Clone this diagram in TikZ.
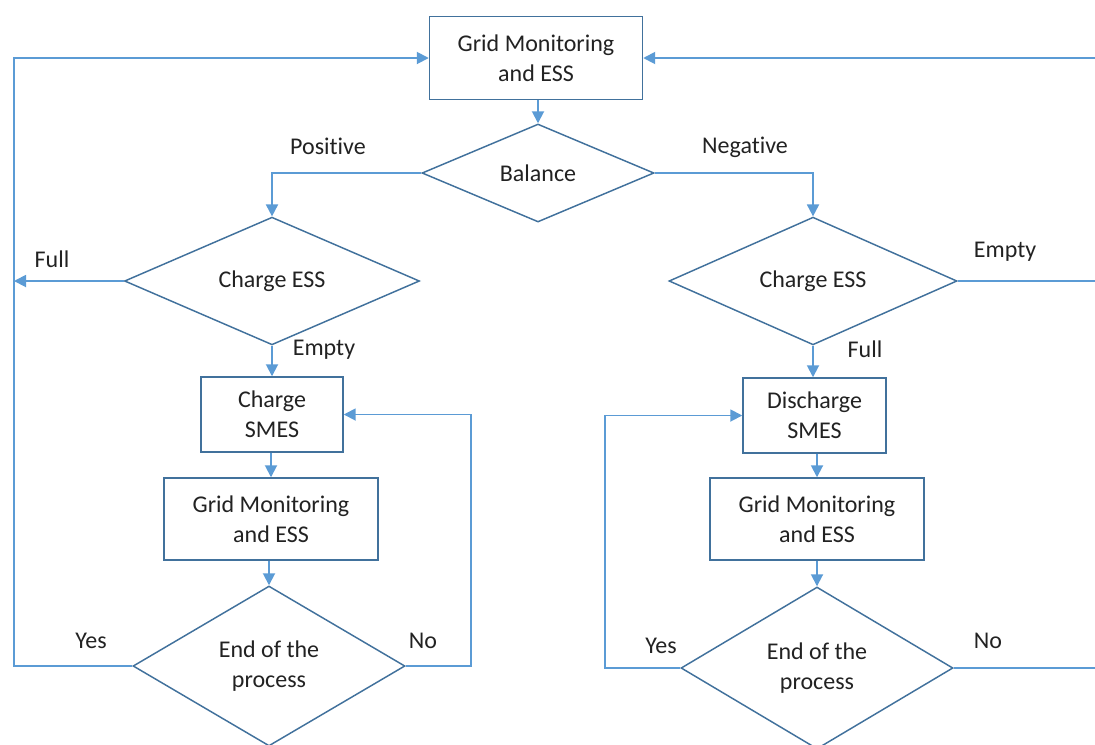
\documentclass[tikz,border=0pt]{standalone}
\usepackage{fontspec}
\setmainfont{Carlito}[RawFeature=-liga]
\usetikzlibrary{shapes.geometric,arrows.meta,calc}
\definecolor{flowline}{HTML}{5B9BD5}
\definecolor{shapeline}{HTML}{41719C}
\definecolor{txt}{HTML}{222222}
\begin{document}
\begin{tikzpicture}[x=0.75pt,y=-0.75pt,
  every node/.style={text=txt,font=\fontsize{18}{22.5}\selectfont},
  procbox/.style={draw=shapeline,line width=1.1pt,fill=white,rectangle,align=center,inner sep=0pt},
  decide/.style={draw=shapeline,line width=1.1pt,fill=white,diamond,align=center,inner sep=0pt},
  link/.style={draw=flowline,line width=1.4pt},
  arr/.style={link,-{Triangle[length=9pt,width=9pt]}},
  lbl/.style={inner sep=0pt}]
\useasboundingbox (0,0) rectangle (1095,744);
\clip (0,0) rectangle (1095,744);

% process blocks and decisions (sizes in pt)
\node[procbox,minimum width=159.75pt,minimum height=62.25pt] (top) at (536,58) {Grid Monitoring\\and ESS};
\node[decide,minimum width=174pt,minimum height=73.5pt] (bal) at (538,173) {Balance};

\node[decide,minimum width=221.25pt,minimum height=67.5pt] (ccL) at (272,281) {Charge ESS};
\node[decide,minimum width=216pt,minimum height=67.5pt] (ccR) at (813,281) {Charge ESS};

\node[procbox,minimum width=106.5pt,minimum height=56.25pt] (smL) at (272,414.5) {Charge\\SMES};
\node[procbox,minimum width=160.5pt,minimum height=61.5pt] (gmL) at (271,519) {Grid Monitoring\\and ESS};
\node[decide,minimum width=204pt,minimum height=120pt] (endL) at (269,666) {End of the\\process};

\node[procbox,minimum width=107.25pt,minimum height=56.25pt] (smR) at (814.5,415.5) {Discharge\\SMES};
\node[procbox,minimum width=160.5pt,minimum height=61.5pt] (gmR) at (817,519) {Grid Monitoring\\and ESS};
\node[decide,minimum width=204pt,minimum height=121.5pt] (endR) at (817,668) {End of the\\process};

% routing points for the loop lines
\coordinate (lc) at (14,58);
\coordinate (rc) at (1095,58);
\coordinate (nl) at (471,414.5);
\coordinate (yr) at (605,415.5);

% connectors
\draw[arr] (top.south -| bal.north) -- (bal.north);
\draw[arr] (bal.west) -| (ccL.north);
\draw[arr] (bal.east) -| (ccR.north);
\draw[arr] (ccL.west) -- (ccL.west -| lc);
\draw[link] (ccR.east) -- (ccR.east -| rc);
\draw[arr] (ccL.south) -- (ccL.south |- smL.north);
\draw[arr] (ccR.south) -- (ccR.south |- smR.north);
\draw[arr] (smL.south -| gmL.north) -- (gmL.north);
\draw[arr] (smR.south -| gmR.north) -- (gmR.north);
\draw[arr] (gmL.south -| endL.north) -- (endL.north);
\draw[arr] (gmR.south) -- (endR.north);
\draw[arr] (endL.west) -| (lc) -- (top.west);
\draw[arr] (rc) -- (top.east);
\draw[arr] (endL.east) -| (nl) -- (smL.east);
\draw[arr] (endR.west) -| (yr) -- (smR.west);
\draw[link] (endR.east) -- (endR.east -| rc);

% branch labels
\node[lbl] (pos) at (328,146) {Positive};
\node[lbl] (neg) at (745,147) {Negative};
\node[lbl] (fullL) at (52,259) {Full};
\node[lbl] (emptyR) at (1005,252) {Empty};
\node[lbl] (emptyL) at (324,350) {Empty};
\node[lbl] (fullR) at (865,349) {Full};
\node[lbl] (yesL) at (91,641) {Yes};
\node[lbl] (noL) at (423,641) {No};
\node[lbl] (yesR) at (661,646) {Yes};
\node[lbl] (noR) at (988,641) {No};
\end{tikzpicture}
\end{document}
